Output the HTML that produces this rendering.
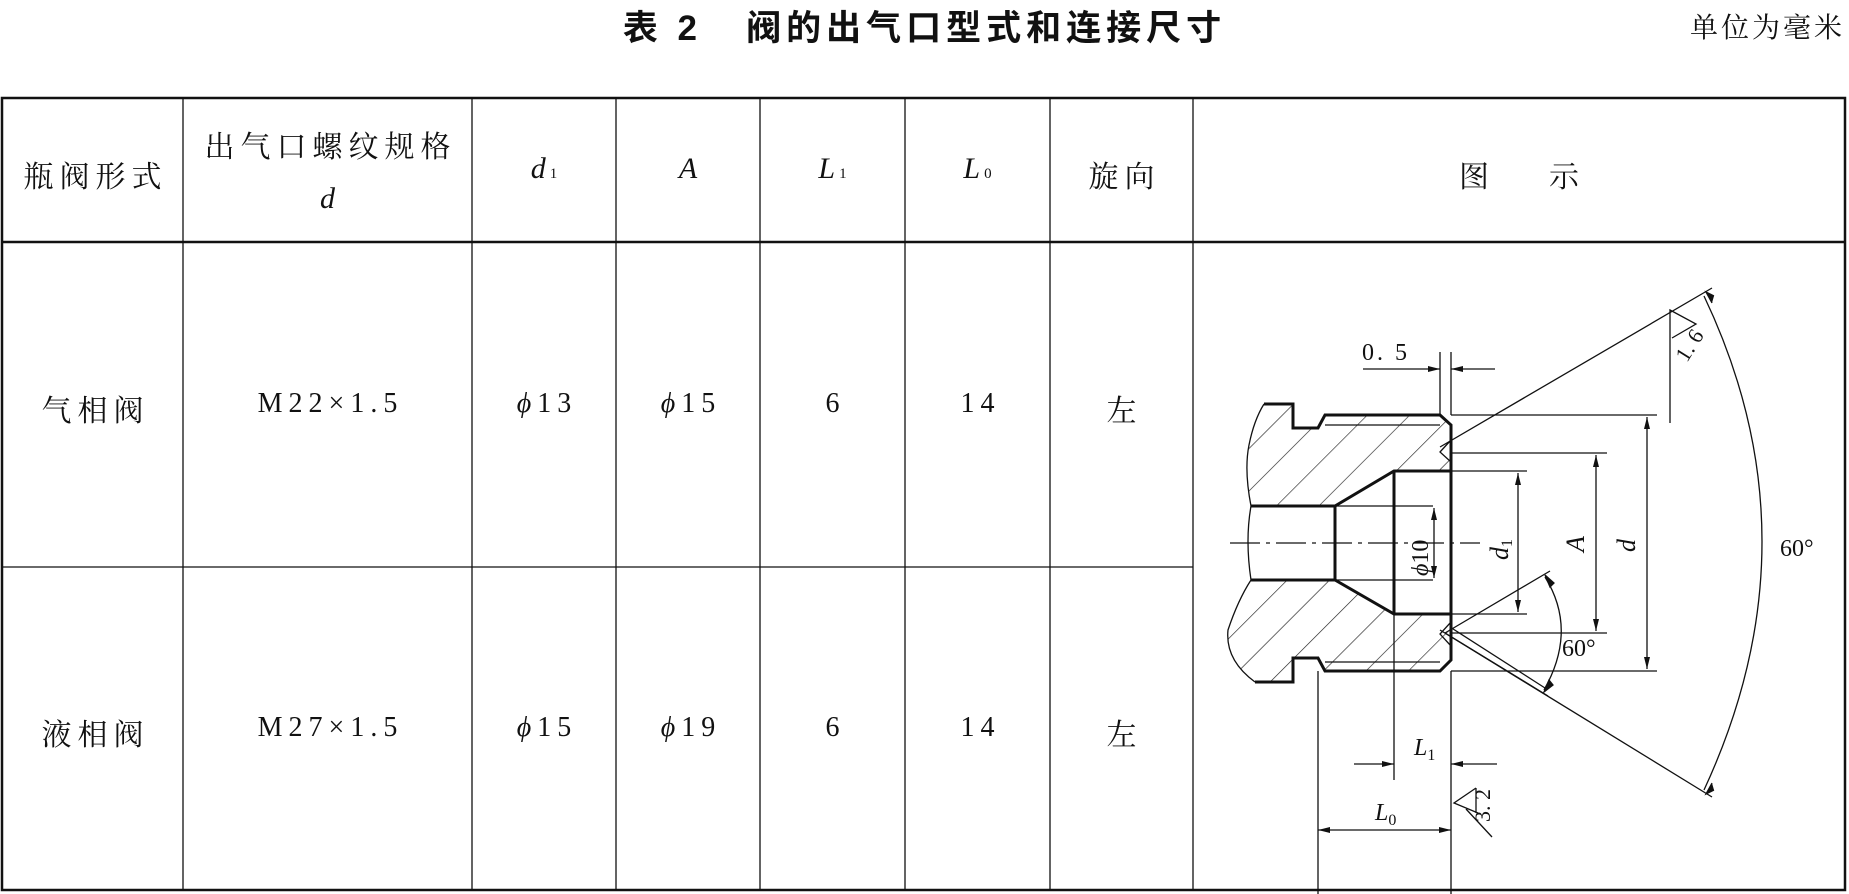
<!DOCTYPE html>
<html><head><meta charset="utf-8">
<style>
html,body{margin:0;padding:0;background:#fff;}
body{width:1849px;height:894px;overflow:hidden;position:relative;font-family:"Liberation Serif","Noto Serif CJK SC",serif;color:#111;}
.t{position:absolute;white-space:nowrap;}
.c{letter-spacing:6px;text-indent:6px;}
.n{letter-spacing:6px;text-indent:6px;font-size:28px;}
</style></head><body>
<div class="t" style="left:0;width:1849px;top:0px;text-align:center;font-family:'Liberation Sans','Noto Sans CJK SC',sans-serif;font-weight:bold;font-size:35px;letter-spacing:5px;">表 2&nbsp;&nbsp;&nbsp;阀的出气口型式和连接尺寸</div>
<div class="t" style="right:4px;top:6px;font-size:28px;font-family:'Liberation Serif','Noto Serif CJK SC',serif;letter-spacing:3px;">单位为毫米</div>
<svg width="1849" height="894" style="position:absolute;left:0;top:0" xmlns="http://www.w3.org/2000/svg">
<defs>
<pattern id="h" patternUnits="userSpaceOnUse" width="30" height="30" patternTransform="rotate(45)">
<line x1="0" y1="0" x2="0" y2="30" stroke="#222" stroke-width="1.3"/>
</pattern>
<marker id="a" viewBox="0 0 12 6" refX="12" refY="3" markerWidth="12" markerHeight="6" orient="auto" markerUnits="userSpaceOnUse"><path d="M0,0 L12,3 L0,6 z" fill="#111"/></marker>
</defs>
<g stroke="#111" fill="none">
<rect x="2" y="98" width="1843" height="792" stroke-width="2.5"/>
<line x1="2" y1="242" x2="1845" y2="242" stroke-width="2.5"/>
<line x1="2" y1="567" x2="1193" y2="567" stroke-width="1.3"/>
<g stroke-width="1.3">
<line x1="183" y1="98" x2="183" y2="890"/>
<line x1="472" y1="98" x2="472" y2="890"/>
<line x1="616" y1="98" x2="616" y2="890"/>
<line x1="760" y1="98" x2="760" y2="890"/>
<line x1="905" y1="98" x2="905" y2="890"/>
<line x1="1050" y1="98" x2="1050" y2="890"/>
<line x1="1193" y1="98" x2="1193" y2="890"/>
</g>
</g>
<g stroke="#111" fill="none" stroke-width="1.3">
<path d="M1264,404 L1293,404 L1293,428 L1318,428 L1325,415 L1440,415 L1451,425 L1451,471 L1394,471 L1335,506 L1251,506 Q1244,470 1249,445 Q1254,420 1264,404 Z" fill="url(#h)" stroke="none"/>
<path d="M1251,580 L1335,580 L1394,614 L1451,614 L1451,660 L1440,671 L1325,671 L1318,658 L1293,658 L1293,682 L1255,682 Q1225,660 1228,630 Q1238,600 1251,580 Z" fill="url(#h)" stroke="none"/>
<path d="M1264,404 L1293,404 L1293,428 L1318,428 L1325,415 L1440,415 L1451,425 L1451,660 L1440,671 L1325,671 L1318,658 L1293,658 L1293,682 L1255,682" stroke-width="3"/>
<path d="M1264,404 Q1254,420 1249,445 Q1244,470 1251,506 Q1245,540 1251,580 Q1238,600 1228,630 Q1225,660 1255,682" stroke-width="1.3"/>
<path d="M1251,506 L1335,506 L1394,471 L1451,471 M1251,580 L1335,580 L1394,614 L1451,614 M1335,506 L1335,580 M1394,471 L1394,614" stroke-width="3"/>
<line x1="1325" y1="425" x2="1440" y2="425"/>
<line x1="1325" y1="662" x2="1440" y2="662"/>
<path d="M1451,440 L1440,452 L1451,462 M1451,622 L1440,634 L1451,646"/>
<line x1="1230" y1="543" x2="1480" y2="543" stroke-dasharray="30,6,4,6"/>
<line x1="1335" y1="506" x2="1433" y2="506"/>
<line x1="1335" y1="580" x2="1433" y2="580"/>
<line x1="1451" y1="415" x2="1657" y2="415"/>
<line x1="1451" y1="453" x2="1607" y2="453"/>
<line x1="1451" y1="471" x2="1527" y2="471"/>
<line x1="1451" y1="614" x2="1527" y2="614"/>
<line x1="1451" y1="633" x2="1607" y2="633"/>
<line x1="1451" y1="671" x2="1657" y2="671"/>
<line x1="1647" y1="543" x2="1647" y2="417" marker-end="url(#a)"/>
<line x1="1647" y1="543" x2="1647" y2="669" marker-end="url(#a)"/>
<line x1="1596" y1="543" x2="1596" y2="455" marker-end="url(#a)"/>
<line x1="1596" y1="543" x2="1596" y2="631" marker-end="url(#a)"/>
<line x1="1518" y1="543" x2="1518" y2="473" marker-end="url(#a)"/>
<line x1="1518" y1="543" x2="1518" y2="612" marker-end="url(#a)"/>
<line x1="1434" y1="543" x2="1434" y2="508" marker-end="url(#a)"/>
<line x1="1434" y1="543" x2="1434" y2="578" marker-end="url(#a)"/>
<line x1="1440" y1="447" x2="1712" y2="288"/>
<line x1="1440" y1="630" x2="1712" y2="797"/>
<path d="M1704,296 Q1820,540 1704,790" />
<path d="M1712,303 L1706,292 L1714,296" fill="#111"/>
<path d="M1712,783 L1706,794 L1714,790" fill="#111"/>
<line x1="1445" y1="633" x2="1550" y2="571"/>
<line x1="1445" y1="633" x2="1548" y2="696"/>
<line x1="1450" y1="627" x2="1545" y2="688"/>
<path d="M1545,577 Q1578,630 1544,690"/>
<path d="M1550,587 L1545,575 L1554,583 Z" fill="#111"/>
<path d="M1549,680 L1544,692 L1553,685 Z" fill="#111"/>
<line x1="1440" y1="352" x2="1440" y2="415"/>
<line x1="1451" y1="352" x2="1451" y2="415"/>
<line x1="1363" y1="369" x2="1440" y2="369" marker-end="url(#a)"/>
<line x1="1495" y1="369" x2="1451" y2="369" marker-end="url(#a)"/>
<path d="M1670,423 L1670,310 L1696,324 L1672,338"/>
<line x1="1394" y1="614" x2="1394" y2="780"/>
<line x1="1354" y1="764" x2="1394" y2="764" marker-end="url(#a)"/>
<line x1="1497" y1="764" x2="1451" y2="764" marker-end="url(#a)"/>
<line x1="1318" y1="671" x2="1318" y2="894"/>
<line x1="1451" y1="671" x2="1451" y2="894"/>
<line x1="1385" y1="830" x2="1318" y2="830" marker-end="url(#a)"/>
<line x1="1385" y1="830" x2="1451" y2="830" marker-end="url(#a)"/>
<path d="M1476,788 L1454,803 L1478,813 M1466,809 L1492,837 M1476,788 L1476,813"/>
</g>
<g font-family="Liberation Serif, serif" fill="#111">
<text x="1362" y="360" font-size="24" letter-spacing="3">0. 5</text>
<text x="1673" y="352" font-size="22" transform="rotate(-58 1690 345)">1. 6</text>
<text x="1780" y="556" font-size="24">60°</text>
<text x="1562" y="656" font-size="24">60°</text>
<text x="1414" y="755" font-size="24" font-style="italic">L<tspan font-size="16" dy="5" font-style="normal">1</tspan></text>
<text x="1375" y="820" font-size="24" font-style="italic">L<tspan font-size="16" dy="5" font-style="normal">0</tspan></text>
<text font-size="22" transform="translate(1490,822) rotate(-90)">3. 2</text>
<text font-size="24" transform="translate(1428,576) rotate(-90)"><tspan font-style="italic">ϕ</tspan>10</text>
<text font-size="26" font-style="italic" transform="translate(1508,560) rotate(-90)">d<tspan font-size="16" dy="4" font-style="normal">1</tspan></text>
<text font-size="26" font-style="italic" transform="translate(1584,552) rotate(-90)">A</text>
<text font-size="26" font-style="italic" transform="translate(1635,552) rotate(-90)">d</text>
</g>
</svg>
<div style="position:absolute;left:0;top:0;font-size:30px;font-family:'Liberation Serif','Noto Serif CJK SC',serif;">
<div class="t c" style="left:2px;width:181px;top:152px;text-align:center;">瓶阀形式</div>
<div class="t c" style="left:183px;width:289px;top:122px;text-align:center;">出气口螺纹规格</div>
<div class="t" style="left:183px;width:289px;top:182px;text-align:center;font-style:italic;">d</div>
<div class="t" style="left:472px;width:144px;top:152px;text-align:center;font-style:italic;">d<span style="font-size:15px;font-style:normal;margin-left:4px;">1</span></div>
<div class="t" style="left:616px;width:144px;top:152px;text-align:center;font-style:italic;">A</div>
<div class="t" style="left:760px;width:145px;top:152px;text-align:center;font-style:italic;">L<span style="font-size:15px;font-style:normal;margin-left:4px;">1</span></div>
<div class="t" style="left:905px;width:145px;top:152px;text-align:center;font-style:italic;">L<span style="font-size:15px;font-style:normal;margin-left:4px;">0</span></div>
<div class="t c" style="left:1050px;width:143px;top:152px;text-align:center;">旋向</div>
<div class="t" style="left:1193px;width:652px;top:152px;text-align:center;">图&nbsp;&nbsp;&nbsp;&nbsp;&nbsp;&nbsp;&nbsp;&nbsp;示</div>

<div class="t c" style="left:2px;width:181px;top:386px;text-align:center;">气相阀</div>
<div class="t n" style="left:183px;width:289px;top:388px;text-align:center;">M22×1.5</div>
<div class="t n" style="left:472px;width:144px;top:388px;text-align:center;"><i>ϕ</i>13</div>
<div class="t n" style="left:616px;width:144px;top:388px;text-align:center;"><i>ϕ</i>15</div>
<div class="t n" style="left:760px;width:145px;top:388px;text-align:center;">6</div>
<div class="t n" style="left:905px;width:145px;top:388px;text-align:center;">14</div>
<div class="t" style="left:1050px;width:143px;top:386px;text-align:center;">左</div>

<div class="t c" style="left:2px;width:181px;top:710px;text-align:center;">液相阀</div>
<div class="t n" style="left:183px;width:289px;top:712px;text-align:center;">M27×1.5</div>
<div class="t n" style="left:472px;width:144px;top:712px;text-align:center;"><i>ϕ</i>15</div>
<div class="t n" style="left:616px;width:144px;top:712px;text-align:center;"><i>ϕ</i>19</div>
<div class="t n" style="left:760px;width:145px;top:712px;text-align:center;">6</div>
<div class="t n" style="left:905px;width:145px;top:712px;text-align:center;">14</div>
<div class="t" style="left:1050px;width:143px;top:710px;text-align:center;">左</div>
</div>
</body></html>
